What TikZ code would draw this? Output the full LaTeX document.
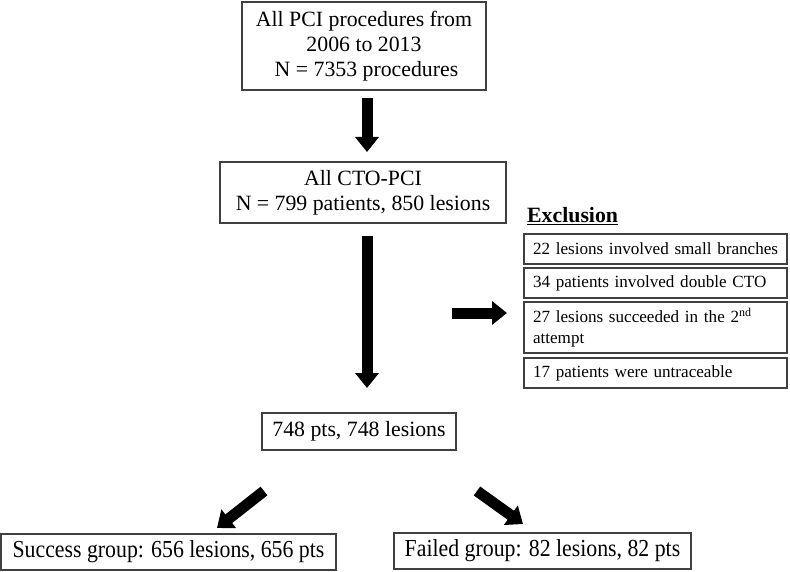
\documentclass[tikz,border=0pt]{standalone}
\usepackage{fontspec}
\setmainfont{Liberation Serif}
\usetikzlibrary{arrows.meta}
\begin{document}
\begin{tikzpicture}[x=1pt,y=-1pt,
  box/.style={draw=black!75, line width=1.2pt, inner sep=0pt, align=center,
    font=\fontsize{21.8}{25}\selectfont},
  exbox/.style={draw=black!75, line width=1.2pt, inner xsep=9pt, inner ysep=0pt,
    text width=245pt, align=left, font=\fontsize{17.1}{20.5}\selectfont},
  blockarrow/.style={line width=11pt, -{Triangle[length=15pt,width=23pt]}}]
\useasboundingbox (0,0) rectangle (790,572);

\node[box, minimum width=244pt, minimum height=88pt] (top) at (364,46)
  {All PCI procedures from\\2006 to 2013\\\hspace*{5pt}N = 7353 procedures};
\node[box, minimum width=286pt, minimum height=61pt] (cto) at (363,192.5)
  {All CTO-PCI\\N = 799 patients, 850 lesions};
\node[box, minimum width=194pt, minimum height=37pt] (mid) at (359,431.5)
  {748 pts, 748 lesions};
\node[box, minimum width=335pt, minimum height=36pt] (succ) at (168.5,552)
  {\scalebox{1}[1.12]{Success group: 656 lesions, 656 pts}};
\node[box, minimum width=297pt, minimum height=36pt] (fail) at (542.5,551)
  {\scalebox{1}[1.12]{Failed group: 82 lesions, 82 pts}};

\node[anchor=base west, inner sep=0pt, font=\bfseries\fontsize{21.8}{25}\selectfont]
  (exl) at (527,223) {\underline{Exclusion}};
\node[exbox, minimum height=30pt] (e1) at (655.5,249) {\mbox{22 lesions involved small branches}};
\node[exbox, minimum height=30pt] (e2) at (655.5,283) {\mbox{34 patients involved double CTO}};
\node[exbox, minimum height=51pt] (e3) at (655.5,327.5) {\mbox{27 lesions succeeded in the 2\textsuperscript{nd}}\\attempt};
\node[exbox, minimum height=30pt] (e4) at (655.5,373) {\mbox{17 patients were untraceable}};

\coordinate (a1s) at (367,98);  \coordinate (a1e) at (367,152);
\coordinate (a2s) at (367,236); \coordinate (a2e) at (367,388);
\coordinate (a3s) at (452,313); \coordinate (a3e) at (507,313);
\coordinate (a4s) at (264,491); \coordinate (a4e) at (217,528);
\coordinate (a5s) at (477,491); \coordinate (a5e) at (523,524);

\draw[blockarrow] (a1s) -- (a1e);
\draw[blockarrow] (a2s) -- (a2e);
\draw[blockarrow] (a3s) -- (a3e);
\draw[blockarrow] (a4s) -- (a4e);
\draw[blockarrow] (a5s) -- (a5e);
\end{tikzpicture}
\end{document}
